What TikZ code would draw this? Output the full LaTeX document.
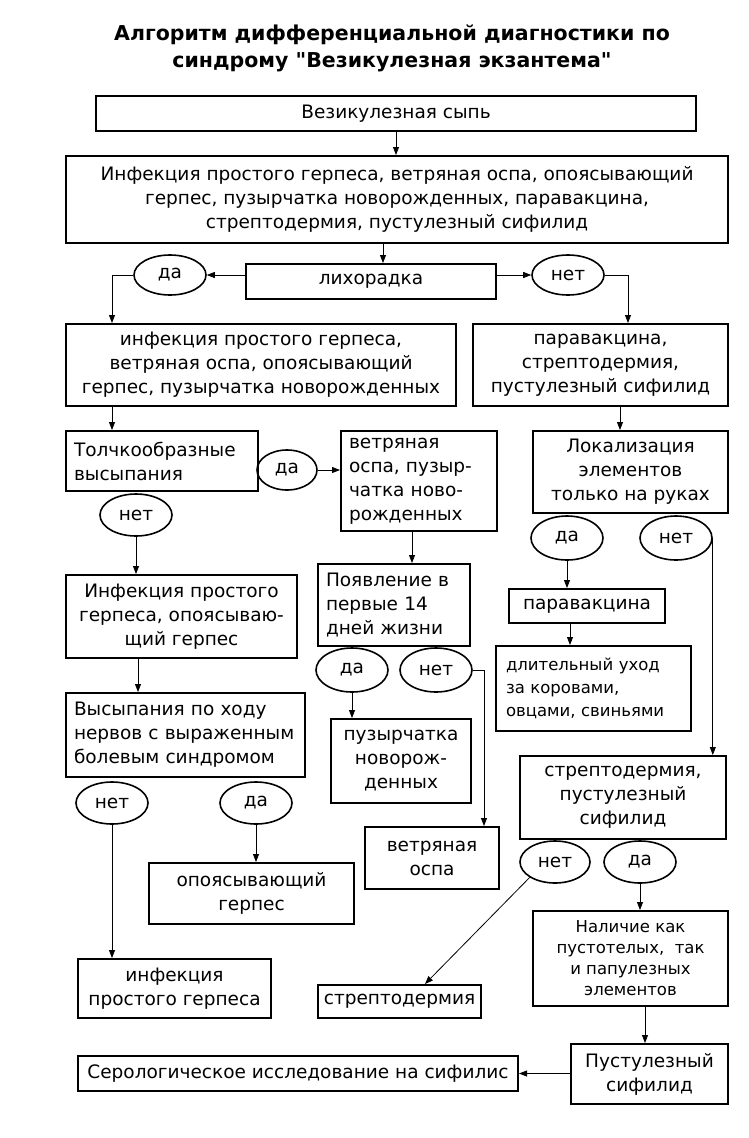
\documentclass[tikz,border=0pt]{standalone}
\usepackage{fontspec}
\setmainfont{DejaVu Sans}[Ligatures=TeXOff]
\usetikzlibrary{arrows.meta,shapes.geometric}
\newcommand\nbl[1]{\mbox{#1}}
\begin{document}
\begin{tikzpicture}[x=1pt,y=-1pt,
  box/.style={draw,line width=2pt,inner sep=0pt,anchor=north west,font=\fontsize{18.5}{24}\selectfont,align=center},
  lbox/.style={box,align=left},
  small/.style={font=\fontsize{16.5}{21}\selectfont},
  oval/.style={draw,ellipse,line width=1.6pt,inner sep=0pt,font=\fontsize{18.5}{24}\selectfont},
  arr/.style={-{Triangle[length=8pt,width=6pt]},line width=0.8pt}]
\useasboundingbox (0,0) rectangle (748,1138);

\node[font=\bfseries\fontsize{20.5}{27}\selectfont,align=center] (title) at (392,48) {Алгоритм дифференциальной диагностики по\\синдрому "Везикулезная экзантема"};

\node[box,minimum width=600pt,minimum height=35pt] (b1) at (95,95) {Везикулезная сыпь};
\node[box,minimum width=662pt,minimum height=87pt] (b2) at (65,155) {Инфекция простого герпеса, ветряная оспа, опоясывающий\\герпес, пузырчатка новорожденных, паравакцина,\\стрептодермия, пустулезный сифилид};
\node[box,minimum width=250pt,minimum height=35pt] (b3) at (245,263) {лихорадка};
\node[box,minimum width=390pt,minimum height=82pt] (b4) at (65,323) {инфекция простого герпеса,\\ветряная оспа, опоясывающий\\герпес, пузырчатка новорожденных};
\node[box,minimum width=255pt,minimum height=82pt] (b5) at (472,323) {паравакцина,\\стрептодермия,\\пустулезный сифилид};
\node[lbox,minimum width=192pt,minimum height=60pt,text width=176pt] (b6) at (65,430) {\nbl{Толчкообразные}\\\nbl{высыпания}};
\node[lbox,minimum width=156pt,minimum height=100pt,text width=140pt] (b7) at (340,430) {\nbl{ветряная}\\\nbl{оспа, пузыр-}\\\nbl{чатка ново-}\\\nbl{рожденных}};
\node[box,minimum width=231pt,minimum height=83pt] (b8) at (65,574) {Инфекция простого\\герпеса, опоясываю-\\щий герпес};
\node[lbox,minimum width=152pt,minimum height=82pt,text width=136pt] (b9) at (317,563) {\nbl{Появление в}\\\nbl{первые 14}\\\nbl{дней жизни}};
\node[box,minimum width=140pt,minimum height=84pt] (b10) at (330,718) {пузырчатка\\новорож-\\денных};
\node[box,minimum width=134pt,minimum height=62pt] (b11) at (364,826) {ветряная\\оспа};
\node[lbox,minimum width=239pt,minimum height=84pt,text width=223pt] (b12) at (65,692) {\nbl{Высыпания по ходу}\\\nbl{нервов с выраженным}\\\nbl{болевым синдромом}};
\node[box,minimum width=205pt,minimum height=61pt] (b13) at (148,862) {опоясывающий\\герпес};
\node[box,minimum width=193pt,minimum height=59pt] (b14) at (77,958) {инфекция\\простого герпеса};
\node[box,minimum width=195pt,minimum height=82pt] (b15) at (532,430) {Локализация\\элементов\\только на руках};
\node[box,minimum width=156pt,minimum height=34pt] (b16) at (508,588) {паравакцина};
\node[lbox,font=\fontsize{16.5}{23}\selectfont,minimum width=195pt,minimum height=85pt,text width=175pt] (b17) at (495,645) {\nbl{длительный уход}\\\nbl{за коровами,}\\\nbl{овцами, свиньями}};
\node[box,minimum width=206pt,minimum height=83pt] (b18) at (519,755) {стрептодермия,\\пустулезный\\сифилид};
\node[box,minimum width=163pt,minimum height=33pt] (b19) at (317,984) {стрептодермия};
\node[box,small,minimum width=195pt,minimum height=95pt] (b20) at (532,910) {Наличие как\\пустотелых,~ так\\и папулезных\\элементов};
\node[box,minimum width=157pt,minimum height=60pt] (b21) at (570,1043) {Пустулезный\\сифилид};
\node[box,minimum width=440pt,minimum height=35pt] (b22) at (77,1055) {Серологическое исследование на сифилис};

\node[oval,minimum width=72pt,minimum height=40pt] (e1) at (170,275) {да};
\node[oval,minimum width=72pt,minimum height=40pt] (e2) at (568,275) {нет};
\node[oval,minimum width=60pt,minimum height=40pt] (e3) at (287,470) {да};
\node[oval,minimum width=72pt,minimum height=42pt] (e4) at (136,515) {нет};
\node[oval,minimum width=72pt,minimum height=44pt] (e5) at (352,670) {да};
\node[oval,minimum width=72pt,minimum height=44pt] (e6) at (436,670) {нет};
\node[oval,minimum width=72pt,minimum height=42pt] (e7) at (112,803) {нет};
\node[oval,minimum width=72pt,minimum height=42pt] (e8) at (256,803) {да};
\node[oval,minimum width=72pt,minimum height=44pt] (e9) at (567,538) {да};
\node[oval,minimum width=72pt,minimum height=44pt] (e10) at (676,538) {нет};
\node[oval,minimum width=70pt,minimum height=42pt] (e11) at (555,862) {нет};
\node[oval,minimum width=72pt,minimum height=42pt] (e12) at (640,862) {да};

\draw[arr] (b1.south) -- (b1.south |- b2.north);
\draw[arr] ([xshift=12pt]b3.north |- b2.south) -- ([xshift=12pt]b3.north);
\draw[arr] (b3.west |- e1.east) -- (e1.east);
\draw[arr] (b3.east |- e2.west) -- (e2.west);
\draw[arr] (e1.west) -| ([xshift=47pt]b4.north west);
\draw[arr] (e2.east) -| ([xshift=156pt]b5.north west);
\draw[arr] ([xshift=47pt]b4.south west) -- ([xshift=47pt]b4.south west |- b6.north);
\draw[arr] (e3.east) -- (e3.east -| b7.west);
\draw[arr] (e4.south) -- (e4.south |- b8.north);
\draw[arr] ([xshift=72pt]b7.south west) -- ([xshift=72pt]b7.south west |- b9.north);
\draw[arr] (e5.south) -- (e5.south |- b10.north);
\draw[arr] (e6.east) -| ([xshift=120pt]b11.north west);
\draw[arr] ([xshift=73pt]b8.south west) -- ([xshift=73pt]b8.south west |- b12.north);
\draw[arr] (e7.south) -- (e7.south |- b14.north);
\draw[arr] (e8.south) -- (e8.south |- b13.north);
\draw[arr] ([xshift=148pt]b5.south west) -- ([xshift=148pt]b5.south west |- b15.north);
\draw[arr] (e9.south) -- (e9.south |- b16.north);
\draw[arr] ([xshift=62pt]b16.south west) -- ([xshift=62pt]b16.south west |- b17.north);
\draw[arr] (e10.east) -- (e10.east |- b18.north);
\draw[arr] (e11.south west) -- ([xshift=108pt]b19.north west);
\draw[arr] (e12.south) -- (e12.south |- b20.north);
\draw[arr] ([xshift=113pt]b20.south west) -- ([xshift=113pt]b20.south west |- b21.north);
\draw[arr] (b21.west |- b22.east) -- (b22.east);
\end{tikzpicture}
\end{document}
